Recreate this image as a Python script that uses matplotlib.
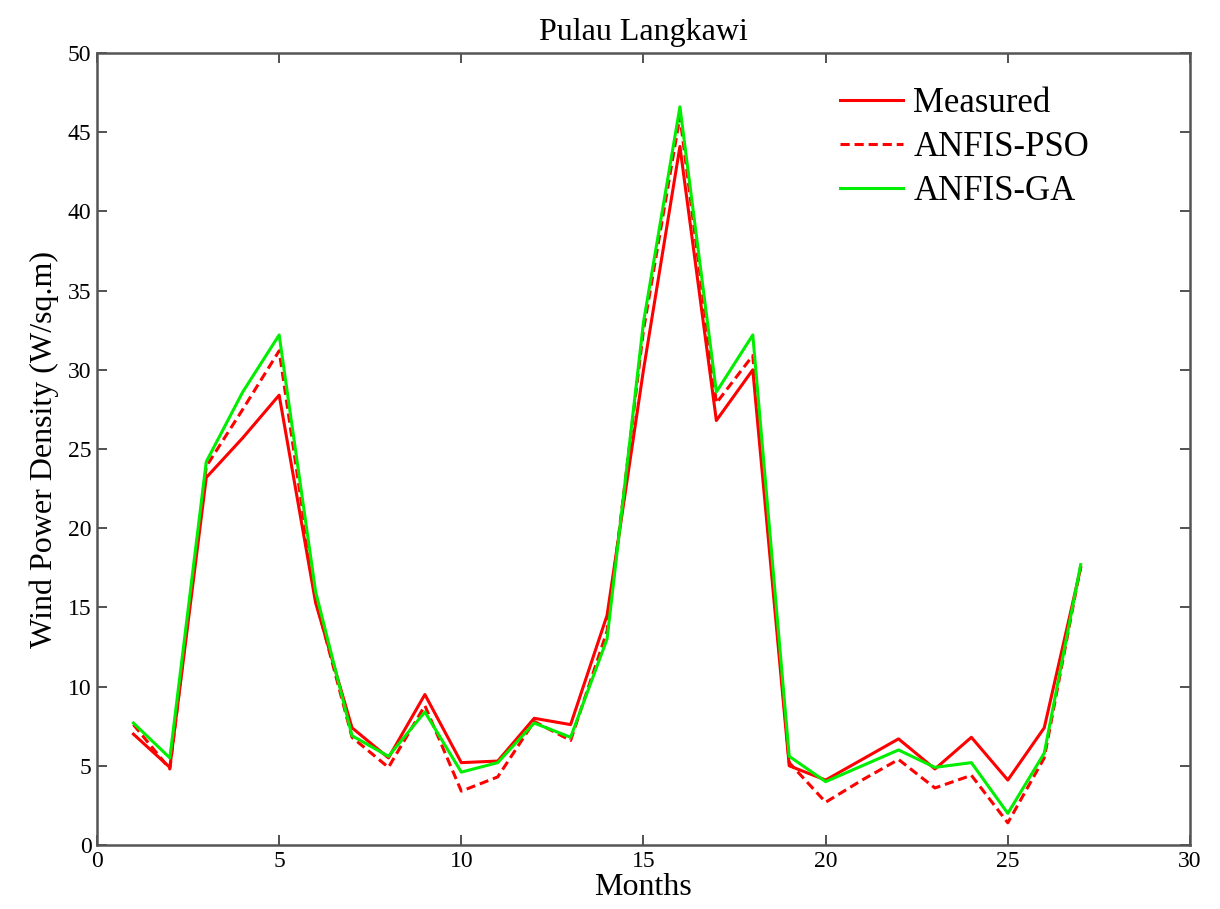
import matplotlib
matplotlib.use("Agg")
import matplotlib.pyplot as plt

months = list(range(1, 28))
measured = [7.0, 4.9, 23.2, 25.7, 28.4, 15.3, 7.4, 5.5, 9.5, 5.2, 5.3, 8.0, 7.6, 14.5, 30.0,
            44.1, 26.8, 30.0, 5.0, 4.1, 5.4, 6.7, 4.8, 6.8, 4.1, 7.4, 17.5]
anfis_pso = [7.6, 4.8, 23.9, 27.5, 31.2, 15.5, 6.8, 4.9, 8.8, 3.4, 4.3, 7.8, 6.6, 13.5, 32.5,
             46.0, 27.9, 30.9, 5.2, 2.7, 4.1, 5.4, 3.6, 4.4, 1.4, 5.5, 17.6]
anfis_ga = [7.7, 5.5, 24.2, 28.6, 32.2, 16.0, 6.9, 5.6, 8.4, 4.6, 5.2, 7.7, 6.8, 13.0, 33.0,
            46.6, 28.6, 32.2, 5.6, 4.0, 5.0, 6.0, 4.9, 5.2, 2.0, 5.8, 17.7]

plt.rcParams['font.family'] = ['Liberation Serif', 'DejaVu Serif']

fig = plt.figure(figsize=(12.2, 9.09), dpi=100)
ax = fig.add_axes([0.0795, 0.0704, 0.8959, 0.8713])

lw = 2.2
ax.plot(months, measured, color='#ff0000', lw=lw, label='Measured')
ax.plot(months, anfis_pso, color='#ff0000', lw=lw, ls=(0, (3, 1.6)), label='ANFIS-PSO')
ax.plot(months, anfis_ga, color='#00ee00', lw=lw, label='ANFIS-GA')

ax.set_xlim(0, 30)
ax.set_ylim(0, 50)
ax.set_xticks(range(0, 31, 5))
ax.set_yticks(range(0, 51, 5))
ax.tick_params(direction='in', top=True, right=True, length=7, width=1.2,
               labelsize=17, color='#333333', pad=4)
for s in ax.spines.values():
    s.set_color('#555555')
    s.set_linewidth(1.8)

ax.set_xlabel('Months', fontsize=23, labelpad=1)
ax.set_ylabel('Wind Power Density (W/sq.m)', fontsize=23, labelpad=6)
ax.set_title('Pulau Langkawi', fontsize=23, pad=9)

leg = ax.legend(loc='upper left', bbox_to_anchor=(0.68, 0.957), frameon=False,
                fontsize=25, handlelength=1.8, handletextpad=0.3, labelspacing=0.32,
                borderpad=0, borderaxespad=0)

fig.savefig('out.png', dpi=100)
